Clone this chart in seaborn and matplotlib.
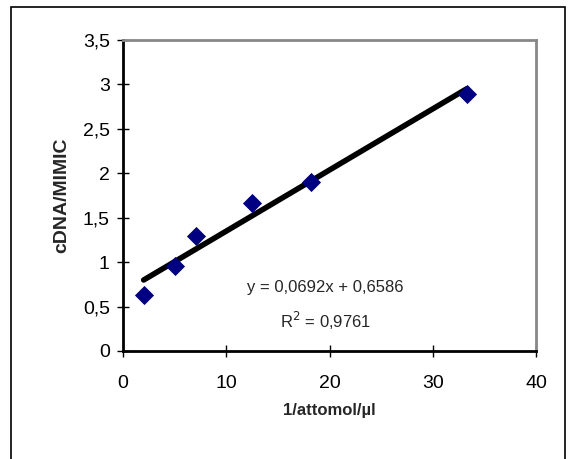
import numpy as np
import pandas as pd
import seaborn as sns
import matplotlib.pyplot as plt
from matplotlib.patches import Rectangle
from matplotlib.ticker import FuncFormatter

# data
x_vals = [2.0, 5.0, 7.1, 12.5, 18.2, 33.3]
y_vals = [0.63, 0.96, 1.29, 1.67, 1.90, 2.89]
eq_text = "y = 0,0692x + 0,6586"
r2_text = "R$^2$ = 0,9761"

df = pd.DataFrame({'x': x_vals, 'y': y_vals})

sns.set_style('white')
plt.rcParams['font.family'] = ['Liberation Sans', 'DejaVu Sans']

fig = plt.figure(figsize=(5.7, 4.59), dpi=100)
ax = fig.add_axes([0.2158, 0.2353, 0.7246, 0.6776])

sns.regplot(data=df, x='x', y='y', ax=ax, ci=None, truncate=True,
            marker='D',
            scatter_kws={'color': '#000080', 's': 95, 'linewidths': 0,
                         'alpha': 1, 'zorder': 3},
            line_kws={'color': 'black', 'linewidth': 4, 'zorder': 2})

ax.set_xlim(0, 40)
ax.set_ylim(0, 3.5)
ax.set_xticks(np.arange(0, 41, 10))
ax.set_yticks(np.arange(0, 3.51, 0.5))
ax.yaxis.set_major_formatter(FuncFormatter(lambda v, p: ('%g' % v).replace('.', ',')))
ax.tick_params(bottom=True, left=True, direction='inout', length=9, width=1,
               labelsize=14, colors='black')
ax.tick_params(axis='y', pad=5)
ax.tick_params(axis='x', pad=13)

ax.set_xlabel('1/attomol/µl', fontsize=12, fontweight='bold', labelpad=8)
ax.set_ylabel('cDNA/MIMIC', fontsize=14, fontweight='bold', labelpad=9)

for s in ['left', 'bottom']:
    ax.spines[s].set_color('black')
    ax.spines[s].set_linewidth(2)
for s in ['top', 'right']:
    ax.spines[s].set_color('#888888')
    ax.spines[s].set_linewidth(2)

ax.text(0.49, 0.205, eq_text, transform=ax.transAxes, ha='center', va='center', fontsize=12)
ax.text(0.49, 0.097, r2_text, transform=ax.transAxes, ha='center', va='center', fontsize=12)

# outer chart frame
fig.patches.append(Rectangle((11 / 570, -0.02), 554 / 570, 1 - 7 / 459 + 0.02,
                             transform=fig.transFigure, fill=False,
                             edgecolor='black', linewidth=1.2))

fig.savefig('out.png', dpi=100)
